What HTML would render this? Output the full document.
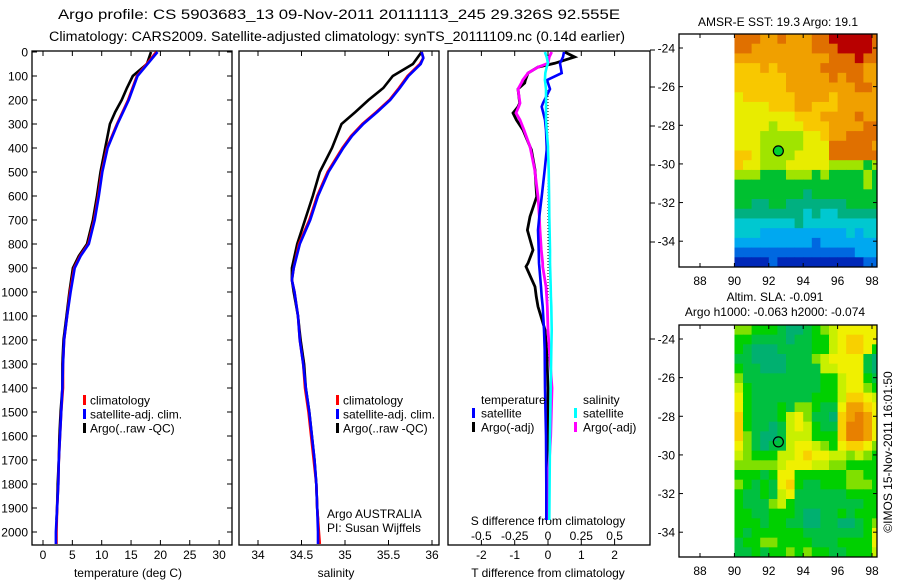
<!DOCTYPE html>
<html><head><meta charset="utf-8"><style>
body{margin:0;background:#fff;}
svg{display:block;font-family:"Liberation Sans",sans-serif;font-size:12px;}
</style></head><body>
<svg id="c" width="900" height="580" xmlns="http://www.w3.org/2000/svg"></svg>
<script>
// ---------- data ----------
const depthTicks=[0,100,200,300,400,500,600,700,800,900,1000,1100,1200,1300,1400,1500,1600,1700,1800,1900,2000];
const tempTicks=[0,5,10,15,20,25,30];
const salTicks=[34,34.5,35,35.5,36];
const salTickLabels=["34","34.5","35","35.5","36"];
const dTTicks=[-2,-1,0,1,2];
const dSTicks=[-0.5,-0.25,0,0.25,0.5];
const dSTickLabels=["-0.5","-0.25","0","0.25","0.5"];
const lonTicks=[88,90,92,94,96,98];
const latTicks=[-24,-26,-28,-30,-32,-34];

const climDepth=[0,100,200,300,400,500,600,700,800,850,900,1000,1100,1200,1300,1400,1500,1600,1700,1800,1900,2000,2050];
const climTemp=[19.3,16.0,14.5,12.6,10.9,10.0,9.4,8.7,7.7,6.3,5.3,4.6,4.1,3.6,3.4,3.4,3.1,2.9,2.7,2.6,2.4,2.3,2.3];
const satTemp=[19.5,16.1,14.6,12.7,11.0,10.1,9.5,8.8,7.8,6.4,5.4,4.7,4.1,3.6,3.4,3.3,3.1,2.9,2.7,2.6,2.4,2.2,2.2];
const argoDepth=[0,50,100,150,200,250,300,400,500,600,700,800,850,900,1000,1100,1200,1300,1400,1500,1600,1700,1800,1900,1950];
const argoTemp=[18.4,17.7,15.3,14.3,13.4,12.3,11.4,10.6,9.8,9.2,8.5,7.5,6.1,5.1,4.5,4.0,3.5,3.3,3.3,3.0,2.8,2.7,2.5,2.4,2.3];

const salDepth=[0,25,50,100,150,200,250,300,350,400,500,600,700,800,900,950,1000,1100,1200,1300,1400,1500,1600,1700,1800,1900,2000,2050];
const climSal=[35.88,35.9,35.86,35.72,35.62,35.51,35.36,35.2,35.07,34.97,34.8,34.68,34.59,34.47,34.41,34.39,34.42,34.46,34.48,34.52,34.54,34.58,34.61,34.64,34.67,34.68,34.7,34.71];
const satSal=[35.88,35.9,35.87,35.73,35.63,35.52,35.37,35.21,35.08,34.98,34.81,34.69,34.6,34.48,34.41,34.39,34.42,34.46,34.48,34.52,34.55,34.59,34.62,34.65,34.67,34.68,34.69,34.69];
const argoSalDepth=[0,50,100,150,200,250,300,400,500,600,700,800,900,950,1000,1100,1200,1300,1400,1500,1600,1700,1800,1900,1950];
const argoSal=[35.88,35.78,35.55,35.44,35.27,35.12,34.96,34.85,34.71,34.63,34.54,34.45,34.39,34.39,34.41,34.46,34.49,34.53,34.55,34.59,34.62,34.65,34.67,34.68,34.69];

const diffDepth=[0,21,47,63,88,117,129,154,213,228,254,283,325,394,408,491,603,686,742,825,880,894,978,1020,1061,1158,1242,1400,1600,1800,1950];
const dTsat=[0.48,0.45,0.36,0.38,0.41,-0.03,0.0,0.06,-0.15,-0.19,-0.14,-0.09,-0.06,-0.04,-0.04,-0.1,-0.19,-0.26,-0.3,-0.28,-0.27,-0.26,-0.21,-0.19,-0.16,-0.12,-0.1,-0.09,-0.06,-0.05,-0.05];
const dTargo=[0.5,0.8,0.2,-0.3,-0.6,-0.68,-0.7,-0.9,-0.85,-0.9,-1.05,-0.95,-0.75,-0.54,-0.5,-0.39,-0.34,-0.54,-0.62,-0.45,-0.6,-0.66,-0.39,-0.35,-0.3,-0.09,-0.04,0.0,0.0,0.0,0.0];
const dSargo=[0.028,0.01,0.0,-0.075,-0.15,-0.19,-0.2,-0.225,-0.21,-0.22,-0.24,-0.21,-0.18,-0.135,-0.13,-0.1,-0.075,-0.065,-0.06,-0.05,-0.04,-0.04,-0.015,-0.01,-0.005,0.0,0.01,0.03,0.02,0.0,0.0];
const dSsat=[-0.023,-0.01,0.0,-0.01,-0.02,-0.023,-0.02,-0.015,-0.015,-0.015,-0.015,-0.015,-0.01,0.0,0.0,0.005,0.008,0.01,0.012,0.015,0.015,0.016,0.02,0.022,0.025,0.028,0.025,0.02,0.015,0.012,0.01];

const sstRows=["aaa99a999aabbbbba","aa9999999aaabbbba","99999999999aaabaa","8889899999aaaaa99","88888899999a9aa99","88888899999999aa9","78888889999899999","77778889988899999","77777778889999a99","777767778889999aa","7776666677899aaaa","77766666777aaaaa9","88766667777aaaaaa","87766677777666656","66655566656555565","55555555555555565","55555555455555555","55445544444445555","44444444343344444","33333334333333333","33322222222223233","22222222212222222","11111111111111222","00001000000000011"];
const sstColors=["#0028b8","#0068e0","#00a8f0","#00c8d0","#00b080","#00c030","#a0e400","#e8ec00","#f8c800","#f0a000","#e07000","#b80000"];
const slaRows=["33222100123455555","22111101122456655","21000111122456652","11000011134555510","21100011114455510","31111111112245521","42111111112245532","52111111122246654","52111213321157765","62111245311067875","62110145421168875","63100144422268875","53101145543256653","43222445655443432","33333455544332222","22212552222223322","32121562112223332","21121451111112222","21113421111111122","22112221001121222","22212211001100123","21222222111111125","12233222211122225","11212232322112224"];
const slaColors=["#00b070","#00c040","#00d000","#80e000","#c8f000","#f0f000","#f8d000","#f0a000","#e88000"];

// ---------- helpers ----------
const NS="http://www.w3.org/2000/svg";
const svg=document.getElementById('c');
function mk(tag,attrs,parent){const e=document.createElementNS(NS,tag);for(const k in attrs)e.setAttribute(k,attrs[k]);(parent||svg).appendChild(e);return e;}
function txt(x,y,s,anchor,parent,size){const t=mk('text',{x:x,y:y,'text-anchor':anchor||'start','font-size':size||12},parent);t.textContent=s;return t;}

const Y0=52, YS=0.24;
const yD=d=>Y0+d*YS;
const xT=t=>43+t*5.87;
const xS=s=>258+(s-34)*87;
const xDT=t=>548+t*33.3;
const xDS=s=>548+s*133.2;

function frame(x1,x2,name){
  const r=mk('rect',{x:x1,y:51,width:x2-x1,height:494,fill:'none',stroke:'#000','stroke-width':1.3});
  
  
}
function line(xs,ds,fx,color,name,w){
  const p=mk('polyline',{points:xs.map((v,i)=>fx(v).toFixed(1)+','+yD(ds[i]).toFixed(1)).join(' '),fill:'none',stroke:color,'stroke-width':w||2.6,'stroke-linejoin':'miter'});
  
  
}

// titles
let t1=txt(339,19,"Argo profile: CS 5903683_13 09-Nov-2011 20111113_245 29.326S 92.555E",'middle',null,13.5);
t1.setAttribute('textLength',562);
t1.setAttribute('lengthAdjust','spacingAndGlyphs');


let t2=txt(337,41,"Climatology: CARS2009. Satellite-adjusted climatology: synTS_20111109.nc (0.14d earlier)",'middle',null,13.5);
t2.setAttribute('textLength',576);
t2.setAttribute('lengthAdjust','spacingAndGlyphs');



// depth labels
const dg=mk('g',{});


depthTicks.forEach(d=>{
  txt(28,yD(d)+4.5,String(d),'end',dg);
  mk('line',{x1:32,x2:37,y1:yD(d),y2:yD(d),stroke:'#000'},dg);
  mk('line',{x1:227,x2:232,y1:yD(d),y2:yD(d),stroke:'#000'},dg);
});

// ---- panel 1 temperature
frame(32,232,'temperature-panel');
const g1=mk('g',{});


tempTicks.forEach(t=>{
  mk('line',{x1:xT(t),x2:xT(t),y1:51,y2:56,stroke:'#000'},g1);
  mk('line',{x1:xT(t),x2:xT(t),y1:540,y2:545,stroke:'#000'},g1);
  txt(xT(t),559,String(t),'middle',g1);
});
txt(128,577,"temperature (deg C)",'middle',g1);
line(argoTemp,argoDepth,xT,'#000','argo-temperature-line');
line(climTemp,climDepth,xT,'#f00','climatology-temperature-line');
line(satTemp,climDepth,xT,'#00f','satellite-temperature-line');

function legend(x,y,items,gname){
  const g=mk('g',{});
  
  
  items.forEach((it,i)=>{
    mk('rect',{x:x,y:y+i*14-5,width:3,height:10,fill:it[1]},g);
    txt(x+7,y+i*14+4.5,it[0],'start',g);
  });
}
legend(83,400,[["climatology","#f00"],["satellite-adj. clim.","#00f"],["Argo(..raw -QC)","#000"]],'temperature-legend');

// ---- panel 2 salinity
frame(239,439,'salinity-panel');
const g2=mk('g',{});


salTicks.forEach((s,i)=>{
  mk('line',{x1:xS(s),x2:xS(s),y1:51,y2:56,stroke:'#000'},g2);
  mk('line',{x1:xS(s),x2:xS(s),y1:540,y2:545,stroke:'#000'},g2);
  txt(xS(s),559,salTickLabels[i],'middle',g2);
});
txt(336,577,"salinity",'middle',g2);
line(argoSal,argoSalDepth,xS,'#000','argo-salinity-line');
line(climSal,salDepth,xS,'#f00','climatology-salinity-line');
line(satSal,salDepth,xS,'#00f','satellite-salinity-line');
legend(336,400,[["climatology","#f00"],["satellite-adj. clim.","#00f"],["Argo(..raw -QC)","#000"]],'salinity-legend');
let a1=txt(327,518,"Argo AUSTRALIA",'start');


let a2=txt(327,532,"PI: Susan Wijffels",'start');



// ---- panel 3 differences
frame(448,650,'difference-panel');
const g3=mk('g',{});


dTTicks.forEach(t=>{
  mk('line',{x1:xDT(t),x2:xDT(t),y1:51,y2:56,stroke:'#000'},g3);
  mk('line',{x1:xDT(t),x2:xDT(t),y1:540,y2:545,stroke:'#000'},g3);
  txt(xDT(t),559,String(t),'middle',g3);
});
dSTicks.forEach((s,i)=>txt(xDS(s),540,dSTickLabels[i],'middle',g3));
txt(548,525,"S difference from climatology",'middle',g3);
txt(548,577,"T difference from climatology",'middle',g3);
[50,87,126,165,203,242,339].forEach(y=>mk('line',{x1:650,x2:655,y1:y,y2:y,stroke:'#000'},g3));
const zl=mk('line',{x1:548,x2:548,y1:90,y2:370,stroke:'#000','stroke-dasharray':'1,2'});


line(dTargo,diffDepth,xDT,'#000','argo-temperature-diff-line',2.8);
line(dSargo,diffDepth,xDS,'#f0f','argo-salinity-diff-line',2.8);
line(dTsat,diffDepth,xDT,'#00f','satellite-temperature-diff-line',2.6);
line(dSsat,diffDepth,xDS,'#0ff','satellite-salinity-diff-line',2.6);
const lg3=mk('g',{});


txt(481,404,"temperature",'start',lg3);
txt(583,404,"salinity",'start',lg3);
[["satellite","#00f","#0ff"],["Argo(-adj)","#000","#f0f"]].forEach((it,i)=>{
  const y=413+i*14;
  mk('rect',{x:472,y:y-5,width:3,height:10,fill:it[1]},lg3);
  txt(481,y+4.5,it[0],'start',lg3);
  mk('rect',{x:574,y:y-5,width:3,height:10,fill:it[2]},lg3);
  txt(583,y+4.5,it[0],'start',lg3);
});

// ---- maps
const xL=lon=>700+(lon-88)*17.2;
function map(top,bottom,rows,colors,name,title1,title2,markerFill){
  const g=mk('g',{});
  
  
  const yLat=lat=>top+14+(-24-lat)*19.32;
  const rh=(bottom-top)/rows.length, cw=0.5*17.2, x0=xL(90);
  const clipId=name+'-clip';
  const cp=mk('clipPath',{id:clipId},g);
  mk('rect',{x:x0,y:top,width:877-x0,height:bottom-top},cp);
  const cg=mk('g',{'clip-path':'url(#'+clipId+')'},g);
  rows.forEach((row,r)=>{
    for(let c=0;c<row.length;c++){
      const cell=mk('rect',{x:(x0+c*cw).toFixed(2),y:(top+r*rh).toFixed(2),width:cw+0.4,height:rh+0.4,fill:colors[parseInt(row[c],16)]},cg);
      
      
    }
  });
  mk('rect',{x:679,y:top,width:198,height:bottom-top,fill:'none',stroke:'#000','stroke-width':1.3},g);
  lonTicks.forEach(l=>{
    mk('line',{x1:xL(l),x2:xL(l),y1:top,y2:top+4,stroke:'#000'},g);
    mk('line',{x1:xL(l),x2:xL(l),y1:bottom-4,y2:bottom,stroke:'#000'},g);
    txt(xL(l),bottom+18,String(l),'middle',g);
  });
  latTicks.forEach(l=>{
    mk('line',{x1:679,x2:683,y1:yLat(l),y2:yLat(l),stroke:'#000'},g);
    mk('line',{x1:873,x2:877,y1:yLat(l),y2:yLat(l),stroke:'#000'},g);
    txt(675,yLat(l)+4.5,String(l),'end',g);
  });
  const m=mk('circle',{cx:xL(92.555),cy:yLat(-29.326),r:5,fill:markerFill,stroke:'#000','stroke-width':1.2},g);
  
  
  title1.forEach((t,i)=>txt(t[1],t[2],t[0],'middle',g));
}
map(34,267,sstRows,sstColors,'sst-map',[["AMSR-E SST: 19.3 Argo: 19.1",778,26]],null,'#00d030');
map(325,557,slaRows,slaColors,'sla-map',[["Altim. SLA: -0.091",775,301],["Argo h1000: -0.063 h2000: -0.074",775,316]],null,'none');

const cr=txt(0,0,"©IMOS 15-Nov-2011 16:01:50",'middle');
cr.setAttribute('transform','translate(892,452) rotate(-90)');


</script>
</body></html>
